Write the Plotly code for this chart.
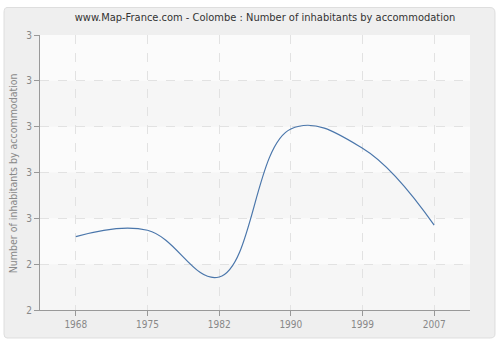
import plotly.graph_objects as go

years = ["1968", "1975", "1982", "1990", "1999", "2007"]
values = [2.46, 2.474, 2.372, 2.695, 2.653, 2.485]
ytick_vals = [2.3, 2.4, 2.5, 2.6, 2.7, 2.8, 2.9]
ytick_text = ["2", "2", "3", "3", "3", "3", "3"]

FONT = "DejaVu Sans Condensed, DejaVu Sans, sans-serif"

fig = go.Figure()
fig.add_trace(go.Scatter(
    x=years, y=values, mode="lines",
    line=dict(color="#4a76ab", width=1.2, shape="spline", smoothing=1.15),
    hoverinfo="skip", showlegend=False,
))

shapes = [
    # outer rounded panel
    dict(type="path", xref="paper", yref="paper", layer="below",
         path="M -0.0767,1.1 L 1.0465,1.1 Q 1.0581,1.1 1.0581,1.08 L 1.0581,-0.0873 "
              "Q 1.0581,-0.1018 1.0465,-0.1018 L -0.0767,-0.1018 Q -0.0837,-0.1018 -0.0837,-0.0873 "
              "L -0.0837,1.08 Q -0.0837,1.1 -0.0767,1.1 Z",
         fillcolor="#efefef", line=dict(color="#dedede", width=1)),
    # plot area background
    dict(type="rect", xref="paper", yref="paper", layer="below",
         x0=0, x1=1, y0=0, y1=1, fillcolor="#fbfbfb", line=dict(width=0)),
]
# alternating horizontal bands
for i in range(len(ytick_vals) - 1):
    if i % 2 == 0:
        shapes.append(dict(type="rect", xref="paper", yref="y", layer="below",
                           x0=0, x1=1, y0=ytick_vals[i], y1=ytick_vals[i + 1],
                           fillcolor="#f6f6f6", line=dict(width=0)))

fig.update_layout(
    width=500, height=340,
    margin=dict(l=40, r=30, t=35, b=30),
    paper_bgcolor="#ffffff",
    plot_bgcolor="#fbfbfb",
    shapes=shapes,
    title=dict(text="www.Map-France.com - Colombe : Number of inhabitants by accommodation",
               x=0.53, xanchor="center", y=0.95, yanchor="middle",
               font=dict(family=FONT, size=11, color="#333333")),
    annotations=[dict(
        text="Number of inhabitants by accommodation", textangle=-90,
        xref="paper", yref="paper", x=-0.063, y=0.497,
        xanchor="center", yanchor="middle", showarrow=False,
        font=dict(family=FONT, size=10.5, color="#888888"),
    )],
    xaxis=dict(
        type="category", range=[-0.5, 5.5], automargin=False,
        showline=True, linecolor="#999999", linewidth=1,
        ticks="outside", ticklen=5, tickcolor="#999999",
        showgrid=True, gridcolor="#e2e2e2", griddash="dash", gridwidth=1,
        tickfont=dict(family=FONT, size=10, color="#888888"),
        zeroline=False,
    ),
    yaxis=dict(
        range=[2.3, 2.9], tickvals=ytick_vals, ticktext=ytick_text, automargin=False,
        showline=True, linecolor="#999999", linewidth=1,
        ticks="outside", ticklen=5, tickcolor="#999999",
        showgrid=True, gridcolor="#e2e2e2", griddash="dash", gridwidth=1,
        tickfont=dict(family=FONT, size=10, color="#888888"),
        zeroline=False,
    ),
)

fig.write_html("out.html")
